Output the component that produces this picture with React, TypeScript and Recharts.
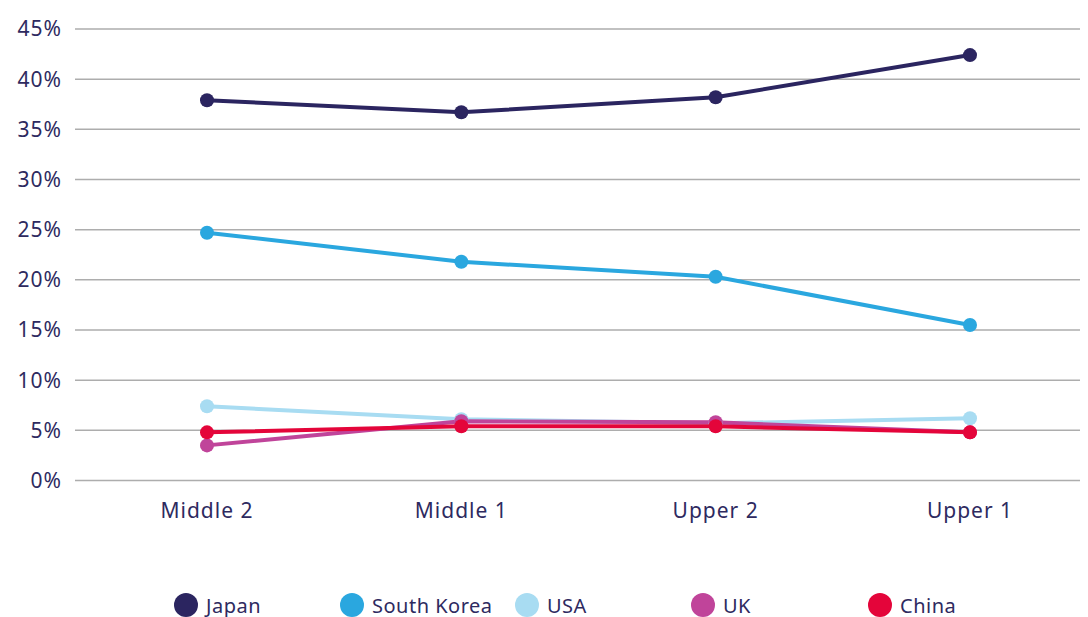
import React from 'react';
import { LineChart, Line, XAxis, YAxis, CartesianGrid, Legend } from 'recharts';

const categories = ['Middle 2', 'Middle 1', 'Upper 2', 'Upper 1'];
const japan = [37.9, 36.7, 38.2, 42.4];
const southKorea = [24.7, 21.8, 20.3, 15.5];
const usa = [7.4, 6.1, 5.7, 6.2];
const uk = [3.5, 5.9, 5.8, 4.8];
const china = [4.8, 5.4, 5.4, 4.8];
const yTicks = [0, 5, 10, 15, 20, 25, 30, 35, 40, 45];

const seriesDefs = [
  { key: 'Japan', values: japan, color: '#2b2560' },
  { key: 'South Korea', values: southKorea, color: '#2aa7df' },
  { key: 'USA', values: usa, color: '#a8dcf2' },
  { key: 'UK', values: uk, color: '#c0449a' },
  { key: 'China', values: china, color: '#e4053a' },
];

const data = categories.map((c, i) => {
  const row: Record<string, any> = { category: c };
  seriesDefs.forEach((s) => (row[s.key] = s.values[i]));
  return row;
});

const TEXT = '#2e2a5f';
const FONT = '"Noto Sans", sans-serif';
const legendWidths = [166, 175, 176, 177, 120];

const LegendContent = () => (
  <div style={{ display: 'flex', paddingLeft: 174, height: 24, alignItems: 'center', fontFamily: FONT, fontSize: 20, letterSpacing: 0.5, color: TEXT }}>
    {seriesDefs.map((s, i) => (
      <div key={s.key} style={{ width: legendWidths[i], display: 'flex', alignItems: 'center', flexShrink: 0 }}>
        <span style={{ width: 24, height: 24, borderRadius: 12, background: s.color, display: 'inline-block', marginRight: 8, flexShrink: 0 }} />
        <span>{s.key}</span>
      </div>
    ))}
  </div>
);

export default function App() {
  return (
    <div style={{ marginLeft: -8, marginTop: -8, width: 1088, height: 617 }}>
      <LineChart width={1088} height={617} data={data} margin={{ top: 29, right: 0, bottom: 0, left: 0 }}>
        <CartesianGrid vertical={false} stroke="#adadad" strokeWidth={1.5} />
        <XAxis
          dataKey="category"
          scale="point"
          padding={{ left: 132, right: 118 }}
          axisLine={false}
          tickLine={false}
          height={112.5}
          tickMargin={17}
          tick={{ fill: TEXT, fontSize: 21, fontFamily: FONT, letterSpacing: 1 }}
          interval={0}
        />
        <YAxis
          domain={[0, 45]}
          ticks={yTicks}
          width={75}
          axisLine={false}
          tickLine={false}
          tickMargin={7}
          tickFormatter={(v) => `${v}%`}
          tick={{ fill: TEXT, fontSize: 21, fontFamily: FONT, letterSpacing: 1 }}
          interval={0}
        />
        <Legend verticalAlign="bottom" height={24} wrapperStyle={{ left: 0, width: 1088 }} content={<LegendContent />} />
        {seriesDefs.map((s) => (
          <Line
            key={s.key}
            dataKey={s.key}
            stroke={s.color}
            strokeWidth={4}
            dot={{ r: 7, fill: s.color, stroke: s.color, strokeWidth: 0 }}
            activeDot={false}
            isAnimationActive={false}
            type="linear"
          />
        ))}
      </LineChart>
    </div>
  );
}
